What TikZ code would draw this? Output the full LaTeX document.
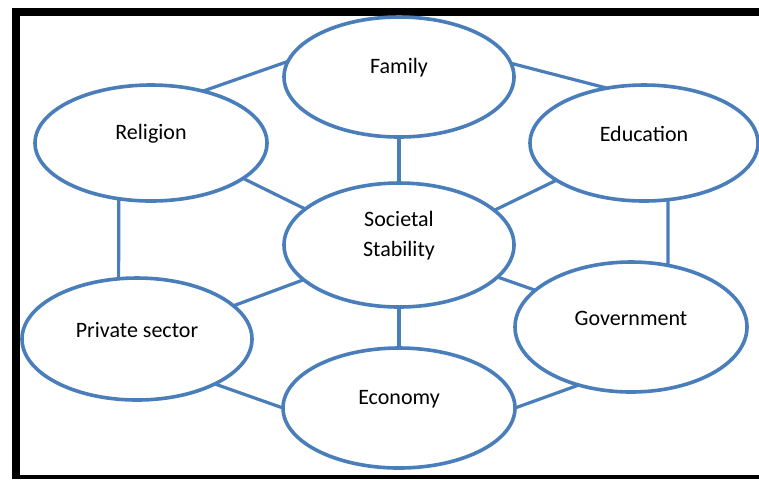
\documentclass[tikz,border=0pt]{standalone}
\usepackage{fontspec}
\setmainfont{Carlito}
\usetikzlibrary{shapes.geometric}
\definecolor{ringblue}{RGB}{74,126,187}
\tikzset{ring/.style={ellipse, draw=ringblue, line width=1.8pt, fill=white, outer sep=0pt}}
\tikzset{bond/.style={draw=ringblue, line width=1.6pt}}
\tikzset{l/.style={font=\fontsize{11}{15}\selectfont, yshift=4.5pt, align=center}}

\begin{document}
\begin{tikzpicture}[x=0.5pt, y=-0.5pt]
  \useasboundingbox (0,0) rectangle (759,479);
  % black frame, open on the right
  \fill (12,8) rectangle (759,16);
  \fill (12,8) rectangle (20,479);
  \fill (12,475) rectangle (759,479);

  \node[ring, minimum width=115pt, minimum height=60pt, label={[l]center:Family}] (Fam) at (399,77) {};
  \node[ring, minimum width=116pt, minimum height=58pt, label={[l]center:Religion}] (Rel) at (151,143) {};
  \node[ring, minimum width=114pt, minimum height=58pt, label={[l]center:Education}] (Edu) at (644,143) {};
  \node[ring, minimum width=115pt, minimum height=62pt, label={[l]center:Societal\\Stability}] (Soc) at (399,245) {};
  \node[ring, minimum width=115pt, minimum height=61pt, label={[l]center:Private sector}] (Prv) at (137,339) {};
  \node[ring, minimum width=116pt, minimum height=65pt, label={[l]center:Government}] (Gov) at (631,327) {};
  \node[ring, minimum width=116pt, minimum height=60pt, label={[l]center:Economy}] (Eco) at (399,408) {};

  % outer ring
  \draw[bond] (Rel.45.5) -- (Fam.172.7);
  \draw[bond] (Fam.7.4) -- (Edu.124.9);
  \draw[bond] (Edu.-67.1) -- (Gov.59);
  \draw[bond] (Eco.0) -- (Gov.-132);
  \draw[bond] (Prv.-30.7) -- (Eco.180);
  \draw[bond] (Rel.-120.7) -- (Prv.107.5);
  % spokes to the centre
  \draw[bond] (Fam.south) -- (Soc.north);
  \draw[bond] (Rel.-21.5) -- (Soc.159.5);
  \draw[bond] (Edu.-157) -- (Soc.20.7);
  \draw[bond] (Soc.-160.5) -- (Prv.19.1);
  \draw[bond] (Soc.-18.1) -- (Gov.159.9);
  \draw[bond] (Soc.south) -- (Eco.north);
\end{tikzpicture}
\end{document}
